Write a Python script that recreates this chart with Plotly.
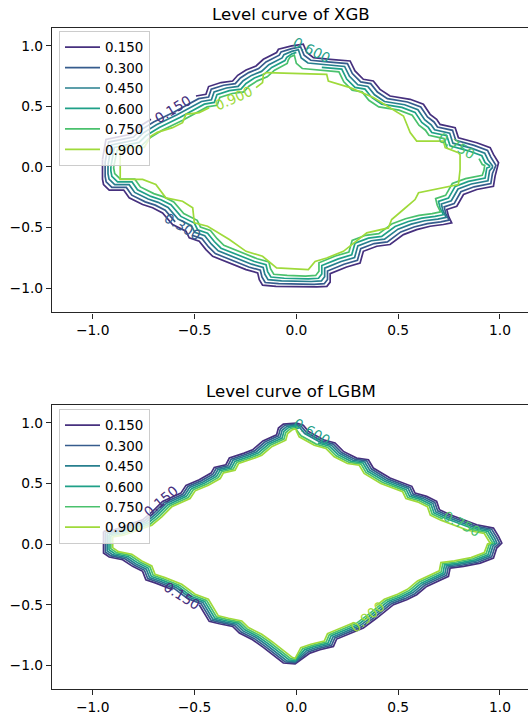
import plotly.graph_objects as go

# Contour levels and their display labels
LEVELS = [0.15, 0.30, 0.45, 0.60, 0.75, 0.90]
LEVEL_TEXT = ["0.150", "0.300", "0.450", "0.600", "0.750", "0.900"]

# Axis ticks
TICK_VALS = [-1.0, -0.5, 0.0, 0.5, 1.0]
TICK_TEXT = ["\u22121.0", "\u22120.5", "0.0", "0.5", "1.0"]

# ---------------- XGB level curves (x, y); None marks a break under a label ----------------
XGB_015 = [(-0.952, 0.062), (-0.952, -0.100), (-0.947, -0.145), (-0.919, -0.191), (-0.848, -0.191),
           (-0.821, -0.255), (-0.755, -0.310), (-0.706, -0.337), (-0.657, -0.379), (-0.608, -0.475),
           (-0.542, -0.530), (-0.526, -0.585), (-0.477, -0.613), (-0.444, -0.682), (-0.411, -0.737),
           (-0.329, -0.792), (-0.247, -0.847), (-0.190, -0.874), (-0.182, -0.930), (-0.166, -0.975),
           (-0.100, -0.985), (0.100, -0.990), (0.150, -0.985), (0.166, -0.950), (0.166, -0.880),
           (0.247, -0.825), (0.313, -0.792), (0.329, -0.696), (0.395, -0.654), (0.460, -0.640),
           (0.526, -0.558), (0.591, -0.517), (0.657, -0.489), (0.722, -0.475), (0.763, -0.461),
           (0.747, -0.406), (0.739, -0.351), (0.788, -0.324), (0.821, -0.227), (0.886, -0.186),
           (0.968, -0.159), (0.976, -0.076), (0.990, 0.000), (0.993, 0.035), (0.968, 0.103),
           (0.952, 0.159), (0.886, 0.200), (0.796, 0.241), (0.780, 0.324), (0.706, 0.351),
           (0.689, 0.393), (0.657, 0.434), (0.624, 0.517), (0.559, 0.558), (0.460, 0.585),
           (0.411, 0.640), (0.378, 0.709), (0.329, 0.723), (0.288, 0.792), (0.264, 0.874),
           (0.166, 0.888), (0.084, 0.902), (0.051, 0.944), (0.034, 1.012), (-0.023, 0.998),
           (-0.088, 0.971), (-0.097, 0.944), (-0.162, 0.888), (-0.198, 0.833), (-0.247, 0.800),
           (-0.288, 0.756), (-0.313, 0.709), (-0.370, 0.696), (-0.431, 0.663), (-0.444, 0.599),
           (-0.493, 0.585), None, (-0.714, 0.393), (-0.780, 0.324), (-0.813, 0.269),
           (-0.935, 0.227), (-0.952, 0.062)]

XGB_030 = [(-0.939, 0.040), (-0.939, -0.078), (-0.934, -0.123), (-0.906, -0.169), (-0.835, -0.169),
           (-0.808, -0.233), (-0.742, -0.288), (-0.693, -0.315), (-0.644, -0.357), (-0.595, -0.453),
           None, (-0.513, -0.563), (-0.464, -0.591), (-0.431, -0.660), (-0.398, -0.715),
           (-0.316, -0.770), (-0.234, -0.825), (-0.177, -0.852), (-0.169, -0.908), (-0.153, -0.953),
           (-0.087, -0.963), (0.087, -0.968), (0.137, -0.963), (0.153, -0.928), (0.153, -0.858),
           (0.234, -0.803), (0.300, -0.770), (0.316, -0.674), (0.382, -0.632), (0.447, -0.618),
           (0.513, -0.536), (0.578, -0.495), (0.644, -0.467), (0.709, -0.453), (0.750, -0.439),
           (0.734, -0.384), (0.726, -0.329), (0.775, -0.302), (0.808, -0.205), (0.873, -0.164),
           (0.955, -0.137), (0.963, -0.054), (0.977, 0.000), (0.980, 0.013), (0.955, 0.081),
           (0.939, 0.137), (0.873, 0.178), (0.783, 0.219), (0.767, 0.302), (0.693, 0.329),
           (0.676, 0.371), (0.644, 0.412), (0.611, 0.495), (0.546, 0.536), (0.447, 0.563),
           (0.398, 0.618), (0.365, 0.687), (0.316, 0.701), (0.275, 0.770), (0.251, 0.852),
           (0.153, 0.866), (0.071, 0.880), (0.038, 0.922), (0.021, 0.990), (-0.023, 0.976),
           (-0.075, 0.949), (-0.084, 0.922), (-0.149, 0.866), (-0.185, 0.811), (-0.234, 0.778),
           (-0.275, 0.734), (-0.300, 0.687), (-0.357, 0.674), (-0.418, 0.641), (-0.431, 0.577),
           (-0.480, 0.563), (-0.600, 0.453), (-0.701, 0.371), (-0.767, 0.302), (-0.800, 0.247),
           (-0.922, 0.205), (-0.939, 0.040)]

XGB_045 = [(-0.925, 0.017), (-0.925, -0.055), (-0.920, -0.100), (-0.892, -0.146), (-0.821, -0.146),
           (-0.794, -0.210), (-0.728, -0.265), (-0.679, -0.292), (-0.630, -0.334), (-0.581, -0.430),
           (-0.515, -0.485), (-0.499, -0.540), (-0.450, -0.568), (-0.417, -0.637), (-0.384, -0.692),
           (-0.302, -0.747), (-0.220, -0.802), (-0.163, -0.829), (-0.155, -0.885), (-0.139, -0.930),
           (-0.073, -0.940), (0.073, -0.945), (0.123, -0.940), (0.139, -0.905), (0.139, -0.835),
           (0.220, -0.780), (0.286, -0.747), (0.302, -0.651), (0.368, -0.609), (0.433, -0.595),
           (0.499, -0.513), (0.564, -0.472), (0.630, -0.444), (0.695, -0.430), (0.736, -0.416),
           (0.720, -0.361), (0.712, -0.306), (0.761, -0.279), (0.794, -0.182), (0.859, -0.141),
           (0.941, -0.114), (0.949, -0.031), (0.963, -0.005), (0.963, 0.010), (0.941, 0.058),
           (0.925, 0.114), (0.859, 0.155), (0.769, 0.196), (0.753, 0.279), (0.679, 0.306),
           (0.662, 0.348), (0.630, 0.389), (0.597, 0.472), (0.532, 0.513), (0.433, 0.540),
           (0.384, 0.595), (0.351, 0.664), (0.302, 0.678), (0.261, 0.747), (0.237, 0.829),
           (0.139, 0.843), (0.057, 0.857), (0.024, 0.899), (0.010, 0.967), (-0.023, 0.953),
           (-0.061, 0.926), (-0.070, 0.899), (-0.135, 0.843), (-0.171, 0.788), (-0.220, 0.755),
           (-0.261, 0.711), (-0.286, 0.664), (-0.343, 0.651), (-0.404, 0.618), (-0.417, 0.554),
           (-0.466, 0.540), (-0.586, 0.430), (-0.687, 0.348), (-0.753, 0.279), (-0.786, 0.224),
           (-0.908, 0.182), (-0.925, 0.017)]

XGB_060 = [(-0.911, 0.000), (-0.911, -0.033), (-0.906, -0.078), (-0.878, -0.124), (-0.807, -0.124),
           (-0.780, -0.188), (-0.714, -0.243), (-0.665, -0.270), (-0.616, -0.312), (-0.567, -0.408),
           (-0.501, -0.463), (-0.485, -0.518), (-0.436, -0.546), (-0.403, -0.615), (-0.370, -0.670),
           (-0.288, -0.725), (-0.206, -0.780), (-0.149, -0.807), (-0.141, -0.863), (-0.125, -0.908),
           (-0.059, -0.918), (0.059, -0.923), (0.109, -0.918), (0.125, -0.883), (0.125, -0.813),
           (0.206, -0.758), (0.272, -0.725), (0.288, -0.629), (0.354, -0.587), (0.419, -0.573),
           (0.485, -0.491), (0.550, -0.450), (0.616, -0.422), (0.681, -0.408), (0.722, -0.394),
           (0.706, -0.339), (0.698, -0.284), (0.747, -0.257), (0.780, -0.160), (0.845, -0.119),
           (0.927, -0.092), (0.935, -0.009), (0.949, 0.000), (0.949, 0.010), (0.927, 0.036),
           (0.911, 0.092), (0.845, 0.133), (0.755, 0.174), (0.739, 0.257), (0.665, 0.284),
           (0.648, 0.326), (0.616, 0.367), (0.583, 0.450), (0.518, 0.491), (0.419, 0.518),
           (0.370, 0.573), (0.337, 0.642), (0.288, 0.656), (0.247, 0.725), (0.223, 0.807),
           (0.125, 0.821), None, (0.000, 0.945), (-0.023, 0.931),
           (-0.047, 0.904), (-0.056, 0.877), (-0.121, 0.821), (-0.157, 0.766), (-0.206, 0.733),
           (-0.247, 0.689), (-0.272, 0.642), (-0.329, 0.629), (-0.390, 0.596), (-0.403, 0.532),
           (-0.452, 0.518), (-0.572, 0.408), (-0.673, 0.326), (-0.739, 0.257), (-0.772, 0.202),
           (-0.894, 0.160), (-0.911, 0.000)]

XGB_075 = [(-0.897, 0.000), (-0.897, -0.010), (-0.892, -0.055), (-0.864, -0.101), (-0.793, -0.101),
           (-0.766, -0.165), (-0.700, -0.220), (-0.651, -0.247), (-0.602, -0.289), (-0.553, -0.385),
           (-0.487, -0.440), (-0.471, -0.495), (-0.422, -0.523), (-0.389, -0.592), (-0.356, -0.647),
           (-0.274, -0.702), (-0.192, -0.757), (-0.135, -0.784), (-0.127, -0.840), (-0.111, -0.885),
           (-0.045, -0.895), (0.045, -0.900), (0.095, -0.895), (0.111, -0.860), (0.111, -0.790),
           (0.192, -0.735), (0.258, -0.702), (0.274, -0.606), (0.340, -0.564), (0.405, -0.550),
           (0.471, -0.468), (0.536, -0.427), (0.602, -0.399), (0.667, -0.385), (0.708, -0.371),
           (0.692, -0.316), (0.684, -0.261), (0.733, -0.234), (0.766, -0.137), (0.831, -0.096),
           (0.913, -0.069), (0.921, -0.030), (0.925, 0.000), (0.925, 0.013), (0.913, 0.020),
           (0.897, 0.069), None, (0.741, 0.151), (0.725, 0.234), (0.651, 0.261),
           (0.634, 0.303), (0.602, 0.344), (0.569, 0.427), (0.504, 0.468), (0.405, 0.495),
           (0.356, 0.550), (0.323, 0.619), (0.274, 0.633), (0.233, 0.702), (0.209, 0.784),
           (0.111, 0.798), (0.029, 0.812), (0.000, 0.854), (-0.010, 0.922), (-0.030, 0.908),
           (-0.040, 0.881), (-0.045, 0.854), (-0.107, 0.798), (-0.143, 0.743), (-0.192, 0.710),
           (-0.233, 0.666), (-0.258, 0.619), (-0.315, 0.606), (-0.376, 0.573), (-0.389, 0.509),
           (-0.438, 0.495), (-0.558, 0.385), (-0.659, 0.303), (-0.725, 0.234), (-0.758, 0.179),
           (-0.880, 0.137), (-0.897, 0.000)]

XGB_090 = [(-0.865, 0.161), (-0.865, -0.103), (-0.755, -0.103), (-0.690, -0.145), (-0.641, -0.255),
           (-0.559, -0.283), (-0.509, -0.337), (-0.501, -0.461), (-0.436, -0.489), (-0.329, -0.599),
           (-0.247, -0.696), (-0.166, -0.737), (-0.097, -0.833), (0.059, -0.847), (0.092, -0.779),
           (0.149, -0.751), (0.231, -0.696), (0.296, -0.613), (0.346, -0.544), (0.452, -0.503),
           (0.468, -0.434), (0.526, -0.351), (0.583, -0.269), (0.600, -0.213), (0.722, -0.172),
           (0.796, -0.145), (0.804, -0.021), (0.804, 0.100), (0.796, 0.117), (0.731, 0.159),
           (0.722, 0.213), (0.591, 0.213), (0.559, 0.283), (0.526, 0.420), (0.378, 0.572),
           (0.264, 0.654), (0.157, 0.709), (0.149, 0.764), (-0.146, 0.778), (-0.162, 0.764),
           (-0.166, 0.696), (-0.198, 0.654), None, (-0.428, 0.489), (-0.477, 0.448),
           (-0.542, 0.434), (-0.559, 0.365), (-0.608, 0.324), (-0.657, 0.296), (-0.683, 0.285),
           (-0.714, 0.255), (-0.747, 0.161), (-0.865, 0.161)]

# ---------------- LGBM level curves ----------------
LGBM_015 = [(-0.947, 0.104), (-0.947, -0.074), (-0.919, -0.107), (-0.853, -0.129), (-0.804, -0.184),
            (-0.755, -0.225), (-0.739, -0.294), (-0.690, -0.322), (-0.608, -0.377), None,
            (-0.477, -0.500), (-0.452, -0.569), (-0.428, -0.637), (-0.378, -0.657), (-0.313, -0.679),
            (-0.280, -0.734), (-0.215, -0.789), (-0.164, -0.850), (-0.064, -0.981), (-0.006, -0.987),
            (0.067, -0.899), (0.116, -0.871), (0.182, -0.844), (0.198, -0.783), (0.264, -0.734),
            (0.329, -0.692), (0.395, -0.610), (0.436, -0.555), (0.477, -0.500), (0.542, -0.459),
            (0.591, -0.418), (0.640, -0.349), (0.689, -0.308), (0.747, -0.266), (0.755, -0.198),
            (0.821, -0.184), (0.903, -0.157), (0.968, -0.115), (0.984, -0.033), (1.009, 0.008),
            (0.993, 0.063), (0.968, 0.132), (0.886, 0.159), (0.821, 0.200), (0.755, 0.242),
            (0.703, 0.283), (0.689, 0.352), (0.640, 0.393), (0.583, 0.420), (0.567, 0.476),
            (0.526, 0.503), (0.460, 0.544), (0.378, 0.627), (0.354, 0.695), (0.296, 0.709),
            (0.231, 0.764), (0.190, 0.833), (0.133, 0.860), (0.059, 0.929), (0.034, 0.979),
            (0.001, 0.998), (-0.064, 0.989), (-0.088, 0.956), (-0.097, 0.901), (-0.164, 0.850),
            (-0.215, 0.777), (-0.256, 0.750), (-0.329, 0.709), (-0.346, 0.654), (-0.403, 0.632),
            (-0.419, 0.585), (-0.477, 0.530), (-0.542, 0.484), (-0.567, 0.420), (-0.657, 0.352),
            (-0.706, 0.269), (-0.755, 0.200), (-0.894, 0.118), (-0.947, 0.104)]

LGBM_030 = [(-0.938, 0.095), (-0.938, -0.065), (-0.910, -0.098), (-0.844, -0.120), (-0.795, -0.175),
            (-0.746, -0.216), (-0.730, -0.285), (-0.681, -0.313), (-0.599, -0.368), (-0.533, -0.450),
            (-0.468, -0.491), (-0.443, -0.560), (-0.419, -0.628), (-0.369, -0.648), (-0.304, -0.670),
            (-0.271, -0.725), (-0.206, -0.780), (-0.155, -0.841), (-0.055, -0.972), (-0.006, -0.978),
            (0.058, -0.890), (0.107, -0.862), (0.173, -0.835), (0.189, -0.774), (0.255, -0.725),
            (0.320, -0.683), (0.386, -0.601), (0.427, -0.546), (0.468, -0.491), (0.533, -0.450),
            (0.582, -0.409), (0.631, -0.340), (0.680, -0.299), (0.738, -0.257), (0.746, -0.189),
            (0.812, -0.175), (0.894, -0.148), (0.959, -0.106), (0.975, -0.024), (0.998, 0.008),
            (0.984, 0.054), (0.959, 0.123), (0.877, 0.150), (0.812, 0.191), (0.746, 0.233),
            (0.694, 0.274), (0.680, 0.343), (0.631, 0.384), (0.574, 0.411), (0.558, 0.467),
            (0.517, 0.494), (0.451, 0.535), (0.369, 0.618), (0.345, 0.686), (0.287, 0.700),
            (0.222, 0.755), (0.181, 0.824), (0.124, 0.851), (0.050, 0.920), (0.025, 0.970),
            (0.001, 0.989), (-0.055, 0.980), (-0.079, 0.947), (-0.088, 0.892), (-0.155, 0.841),
            (-0.206, 0.768), (-0.247, 0.741), (-0.320, 0.700), (-0.337, 0.645), (-0.394, 0.623),
            (-0.410, 0.576), (-0.468, 0.521), (-0.533, 0.475), (-0.558, 0.411), (-0.648, 0.343),
            (-0.697, 0.260), (-0.746, 0.191), (-0.885, 0.109), (-0.938, 0.095)]

LGBM_045 = [(-0.929, 0.086), (-0.929, -0.056), (-0.901, -0.089), (-0.835, -0.111), (-0.786, -0.166),
            (-0.737, -0.207), (-0.721, -0.276), (-0.672, -0.304), (-0.590, -0.359), (-0.524, -0.441),
            (-0.459, -0.482), (-0.434, -0.551), (-0.410, -0.619), (-0.360, -0.639), (-0.295, -0.661),
            (-0.262, -0.716), (-0.197, -0.771), (-0.146, -0.832), (-0.046, -0.963), (-0.006, -0.969),
            (0.049, -0.881), (0.098, -0.853), (0.164, -0.826), (0.180, -0.765), (0.246, -0.716),
            (0.311, -0.674), (0.377, -0.592), (0.418, -0.537), (0.459, -0.482), (0.524, -0.441),
            (0.573, -0.400), (0.622, -0.331), (0.671, -0.290), (0.729, -0.248), (0.737, -0.180),
            (0.803, -0.166), (0.885, -0.139), (0.950, -0.097), (0.966, -0.015), (0.985, 0.008),
            (0.975, 0.045), (0.950, 0.114), (0.868, 0.141), (0.803, 0.182), (0.737, 0.224),
            (0.685, 0.265), (0.671, 0.334), (0.622, 0.375), (0.565, 0.402), (0.549, 0.458),
            (0.508, 0.485), (0.442, 0.526), (0.360, 0.609), (0.336, 0.677), (0.278, 0.691),
            (0.213, 0.746), (0.172, 0.815), (0.115, 0.842), (0.041, 0.911), (0.016, 0.961),
            (0.001, 0.980), (-0.046, 0.971), (-0.070, 0.938), (-0.079, 0.883), (-0.146, 0.832),
            (-0.197, 0.759), (-0.238, 0.732), (-0.311, 0.691), (-0.328, 0.636), (-0.385, 0.614),
            (-0.401, 0.567), (-0.459, 0.512), (-0.524, 0.466), (-0.549, 0.402), (-0.639, 0.334),
            (-0.688, 0.251), (-0.737, 0.182), (-0.876, 0.100), (-0.929, 0.086)]

LGBM_060 = [(-0.920, 0.077), (-0.920, -0.047), (-0.892, -0.080), (-0.826, -0.102), (-0.777, -0.157),
            (-0.728, -0.198), (-0.712, -0.267), (-0.663, -0.295), (-0.581, -0.350), (-0.515, -0.432),
            (-0.450, -0.473), (-0.425, -0.542), (-0.401, -0.610), (-0.351, -0.630), (-0.286, -0.652),
            (-0.253, -0.707), (-0.188, -0.762), (-0.137, -0.823), (-0.037, -0.954), (-0.006, -0.960),
            (0.040, -0.872), (0.089, -0.844), (0.155, -0.817), (0.171, -0.756), (0.237, -0.707),
            (0.302, -0.665), (0.368, -0.583), (0.409, -0.528), (0.450, -0.473), (0.515, -0.432),
            (0.564, -0.391), (0.613, -0.322), (0.662, -0.281), (0.720, -0.239), (0.728, -0.171),
            (0.794, -0.157), (0.876, -0.130), (0.941, -0.088), (0.957, -0.006), (0.975, 0.008),
            (0.966, 0.036), (0.941, 0.105), (0.859, 0.132), (0.794, 0.173), (0.728, 0.215),
            (0.676, 0.256), (0.662, 0.325), (0.613, 0.366), (0.556, 0.393), (0.540, 0.449),
            (0.499, 0.476), (0.433, 0.517), (0.351, 0.600), (0.327, 0.668), (0.269, 0.682),
            (0.204, 0.737), (0.163, 0.806), (0.106, 0.833), None, (0.007, 0.952),
            (0.001, 0.971), (-0.037, 0.962), (-0.061, 0.929), (-0.070, 0.874), (-0.137, 0.823),
            (-0.188, 0.750), (-0.229, 0.723), (-0.302, 0.682), (-0.319, 0.627), (-0.376, 0.605),
            (-0.392, 0.558), (-0.450, 0.503), (-0.515, 0.457), (-0.540, 0.393), (-0.630, 0.325),
            (-0.679, 0.242), (-0.728, 0.173), (-0.867, 0.091), (-0.920, 0.077)]

LGBM_075 = [(-0.911, 0.068), (-0.911, -0.038), (-0.883, -0.071), (-0.817, -0.093), (-0.768, -0.148),
            (-0.719, -0.189), (-0.703, -0.258), (-0.654, -0.286), (-0.572, -0.341), (-0.506, -0.423),
            (-0.441, -0.464), (-0.416, -0.533), (-0.392, -0.601), (-0.342, -0.621), (-0.277, -0.643),
            (-0.244, -0.698), (-0.179, -0.753), (-0.128, -0.814), (-0.028, -0.945), (-0.006, -0.951),
            (0.031, -0.863), (0.080, -0.835), (0.146, -0.808), (0.162, -0.747), (0.228, -0.698),
            (0.293, -0.656), (0.359, -0.574), (0.400, -0.519), (0.441, -0.464), (0.506, -0.423),
            (0.555, -0.382), (0.604, -0.313), (0.653, -0.272), (0.711, -0.230), (0.719, -0.162),
            (0.785, -0.148), (0.867, -0.121), (0.932, -0.079), (0.948, 0.000), (0.965, 0.008),
            (0.957, 0.027), (0.932, 0.096), (0.850, 0.123), None, (0.719, 0.206),
            (0.667, 0.247), (0.653, 0.316), (0.604, 0.357), (0.547, 0.384), (0.531, 0.440),
            (0.490, 0.467), (0.424, 0.508), (0.342, 0.591), (0.318, 0.659), (0.260, 0.673),
            (0.195, 0.728), (0.154, 0.797), (0.097, 0.824), (0.023, 0.893), (0.000, 0.943),
            (0.001, 0.962), (-0.028, 0.953), (-0.052, 0.920), (-0.061, 0.865), (-0.128, 0.814),
            (-0.179, 0.741), (-0.220, 0.714), (-0.293, 0.673), (-0.310, 0.618), (-0.367, 0.596),
            (-0.383, 0.549), (-0.441, 0.494), (-0.506, 0.448), (-0.531, 0.384), (-0.621, 0.316),
            (-0.670, 0.233), (-0.719, 0.164), (-0.858, 0.082), (-0.911, 0.068)]

LGBM_090 = [(-0.902, 0.059), (-0.902, -0.029), (-0.874, -0.062), (-0.808, -0.084), (-0.759, -0.139),
            (-0.710, -0.180), (-0.694, -0.249), (-0.645, -0.277), (-0.563, -0.332), (-0.497, -0.414),
            (-0.432, -0.455), (-0.407, -0.524), (-0.383, -0.592), (-0.333, -0.612), (-0.268, -0.634),
            (-0.235, -0.689), (-0.170, -0.744), (-0.119, -0.805), (-0.019, -0.936), (-0.006, -0.942),
            (0.022, -0.854), (0.071, -0.826), (0.137, -0.799), (0.153, -0.738), (0.219, -0.689),
            (0.284, -0.647), None, (0.391, -0.510), (0.432, -0.455), (0.497, -0.414),
            (0.546, -0.373), (0.595, -0.304), (0.644, -0.263), (0.702, -0.221), (0.710, -0.153),
            (0.776, -0.139), (0.858, -0.112), (0.923, -0.070), (0.939, 0.000), (0.955, 0.008),
            (0.948, 0.018), (0.923, 0.087), (0.841, 0.114), (0.776, 0.155), (0.710, 0.197),
            (0.658, 0.238), (0.644, 0.307), (0.595, 0.348), (0.538, 0.375), (0.522, 0.431),
            (0.481, 0.458), (0.415, 0.499), (0.333, 0.582), (0.309, 0.650), (0.251, 0.664),
            (0.186, 0.719), (0.145, 0.788), (0.088, 0.815), (0.014, 0.884), (0.000, 0.934),
            (0.001, 0.953), (-0.019, 0.944), (-0.043, 0.911), (-0.052, 0.856), (-0.119, 0.805),
            (-0.170, 0.732), (-0.211, 0.705), (-0.284, 0.664), (-0.301, 0.609), (-0.358, 0.587),
            (-0.374, 0.540), (-0.432, 0.485), (-0.497, 0.439), (-0.522, 0.375), (-0.612, 0.307),
            (-0.661, 0.224), (-0.710, 0.155), (-0.849, 0.073), (-0.902, 0.059)]

XGB_CURVES = [XGB_015, XGB_030, XGB_045, XGB_060, XGB_075, XGB_090]
LGBM_CURVES = [LGBM_015, LGBM_030, LGBM_045, LGBM_060, LGBM_075, LGBM_090]

# Inline contour labels: (level index, x, y, angle)
XGB_LABELS = [(0, -0.605, 0.478, -31), (5, -0.305, 0.566, -24), (3, 0.075, 0.965, 27),
              (4, 0.790, 0.175, 29), (1, -0.555, -0.492, 31)]
LGBM_LABELS = [(0, -0.560, -0.430, 32), (3, 0.078, 0.922, 30), (4, 0.815, 0.165, 27),
               (5, 0.350, -0.605, -40), (0, -0.665, 0.355, -40)]

COLORS = ["#46307e", "#365c8d", "#277f8e", "#1fa088", "#4ac16d", "#9fda3a"]
FONT = "DejaVu Sans"
TXT = 13.8
AXIS_COLOR = "#262626"

fig = go.Figure()


def add_curves(curves, xa, ya, legend):
    for i, pts in enumerate(curves):
        xs = [p[0] if p is not None else None for p in pts]
        ys = [p[1] if p is not None else None for p in pts]
        fig.add_trace(go.Scatter(
            x=xs, y=ys, mode="lines", name=LEVEL_TEXT[i],
            line=dict(color=COLORS[i], width=1.7),
            xaxis=xa, yaxis=ya, legend=legend, hoverinfo="skip",
            connectgaps=False,
        ))


add_curves(XGB_CURVES, "x", "y", "legend")
add_curves(LGBM_CURVES, "x2", "y2", "legend2")

annotations = []
for labels, xr, yr in ((XGB_LABELS, "x", "y"), (LGBM_LABELS, "x2", "y2")):
    for idx, lx, ly, ang in labels:
        annotations.append(dict(
            x=lx, y=ly, xref=xr, yref=yr, text=LEVEL_TEXT[idx], showarrow=False,
            textangle=ang, font=dict(family=FONT, size=TXT, color=COLORS[idx]),
        ))

TOP_DOMAIN = [0.5697, 1.0]
BOT_DOMAIN = [0.0, 0.4303]
for title, ytop in (("Level curve of XGB", TOP_DOMAIN[1]), ("Level curve of LGBM", BOT_DOMAIN[1])):
    annotations.append(dict(
        x=0.503, y=ytop, xref="paper", yref="paper", xanchor="center", yanchor="bottom",
        yshift=2, text=title, showarrow=False,
        font=dict(family=FONT, size=16.6, color="#000000"),
    ))

axis_common = dict(
    showgrid=False, zeroline=False, showline=True, linecolor=AXIS_COLOR, linewidth=1.2,
    ticks="outside", ticklen=5, tickwidth=1.1, tickcolor=AXIS_COLOR,
    tickvals=TICK_VALS, ticktext=TICK_TEXT,
    tickfont=dict(family=FONT, size=TXT, color="#000000"),
)

legend_common = dict(
    xanchor="left", yanchor="top", bgcolor="rgba(255,255,255,0.8)",
    bordercolor="#cccccc", borderwidth=1, font=dict(family=FONT, size=13.4, color="#000000"),
    tracegroupgap=0, itemwidth=35,
)

fig.update_layout(
    width=528, height=715,
    margin=dict(l=52, r=0, t=28, b=24),
    paper_bgcolor="white", plot_bgcolor="white",
    showlegend=True,
    xaxis=dict(domain=[0, 1], range=[-1.2, 1.1376], anchor="y", mirror=True, **axis_common),
    yaxis=dict(domain=TOP_DOMAIN, range=[-1.2, 1.146], anchor="x", mirror=False, **axis_common),
    xaxis2=dict(domain=[0, 1], range=[-1.2, 1.1376], anchor="y2", mirror=True, **axis_common),
    yaxis2=dict(domain=BOT_DOMAIN, range=[-1.195, 1.15], anchor="x2", mirror=False, **axis_common),
    legend=dict(x=0.0147, y=0.9955, **legend_common),
    legend2=dict(x=0.0147, y=0.4238, **legend_common),
    annotations=annotations,
)

fig.write_html("out.html", config={"displayModeBar": False})
